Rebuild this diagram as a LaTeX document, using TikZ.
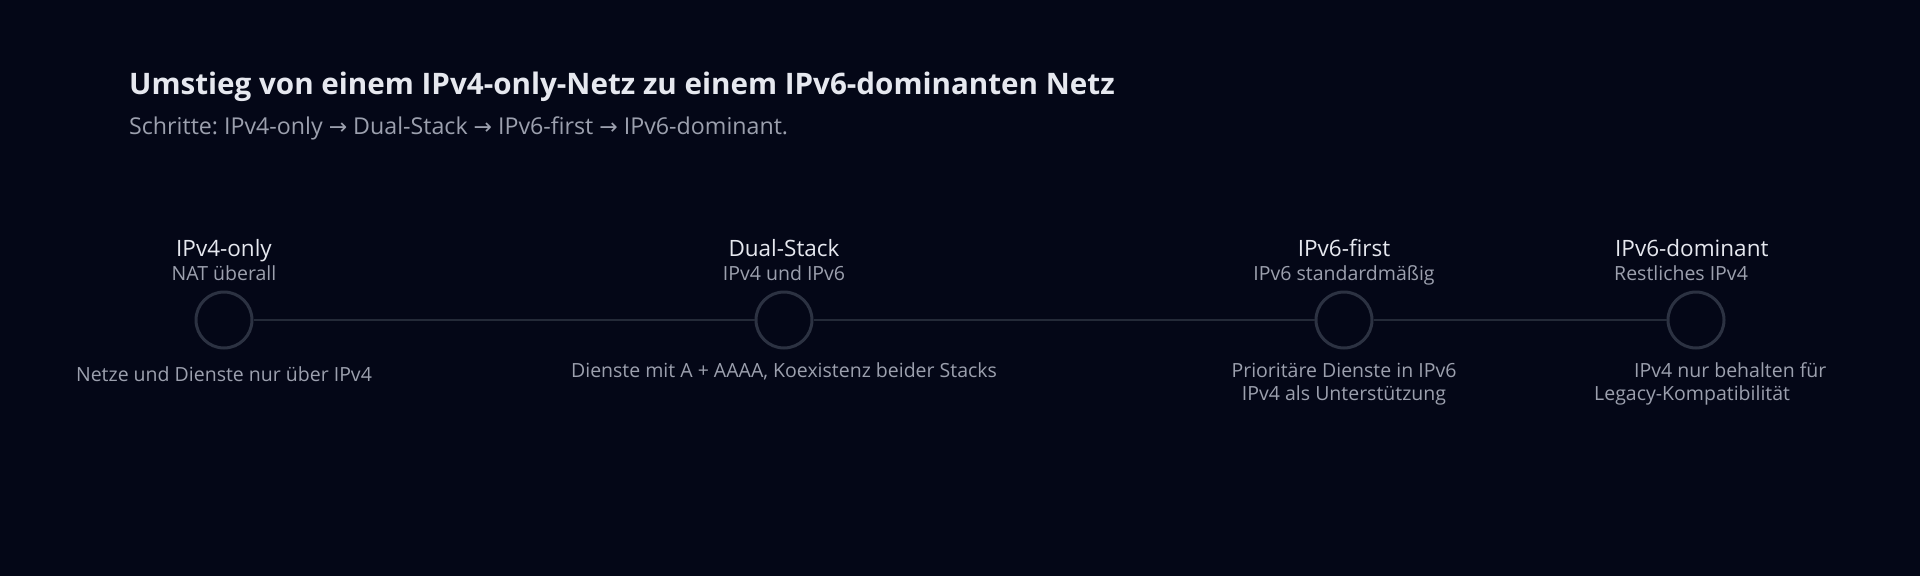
\documentclass[tikz,border=0pt]{standalone}
\usepackage{fontspec}
\setmainfont{Open Sans}
\newfontfamily\arrowfont{DejaVu Sans}
\newcommand{\myarrow}{{\arrowfont\fontsize{22}{26}\selectfont →}}
\definecolor{bgc}{HTML}{040717}
\definecolor{titlec}{HTML}{E6E8EF}
\definecolor{subc}{HTML}{9CA0AE}
\definecolor{linec}{HTML}{242a38}
\definecolor{ringc}{HTML}{2C3242}
\tikzset{
  stage/.style={circle, draw=ringc, line width=3pt, fill=bgc, minimum size=56pt, inner sep=0pt},
  conn/.style={draw=linec, line width=2.6pt},
  stagetitle/.style={anchor=base, text=titlec, font=\fontsize{22.5}{26}\selectfont, inner sep=0pt},
  stagesub/.style={anchor=base, text=subc, font=\fontsize{19.5}{23}\selectfont, inner sep=0pt},
  stagedesc/.style={anchor=base, text=subc, font=\fontsize{19.5}{23}\selectfont, inner sep=0pt},
}
\frenchspacing
\begin{document}
\begin{tikzpicture}[x=1pt, y=-1pt]
\fill[bgc] (0,0) rectangle (1920,576);
\useasboundingbox (0,0) rectangle (1920,576);

\node[anchor=base west, inner sep=0pt, text=titlec, font=\fontsize{29.6}{34}\selectfont\bfseries] (title) at (129,94) {Umstieg von einem IPv4-only-Netz zu einem IPv6-dominanten Netz};
\node[anchor=base west, inner sep=0pt, text=subc, font=\fontsize{23.2}{27}\selectfont] (subtitle) at (129,134) {Schritte: IPv4-only \myarrow{} Dual-Stack \myarrow{} IPv6-first \myarrow{} IPv6-dominant.};

\node[stage] (s1) at (224,320) {};
\node[stage] (s2) at (784,320) {};
\node[stage] (s3) at (1344,320) {};
\node[stage] (s4) at (1696,320) {};
\draw[conn] (s1) -- (s2);
\draw[conn] (s2) -- (s3);
\draw[conn] (s3) -- (s4);

\node[stagetitle] (t1) at (224,256) {IPv4-only};
\node[stagesub] (u1) at (224,280) {NAT überall};
\node[stagedesc] (d1) at (224,381) {Netze und Dienste nur über IPv4};

\node[stagetitle] (t2) at (784,256) {Dual-Stack};
\node[stagesub] (u2) at (784,280) {IPv4 und IPv6};
\node[stagedesc] (d2) at (784,377) {Dienste mit A + AAAA, Koexistenz beider Stacks};

\node[stagetitle] (t3) at (1344,256) {IPv6-first};
\node[stagesub] (u3) at (1344,280) {IPv6 standardmäßig};
\node[stagedesc] (d3a) at (1344,377) {Prioritäre Dienste in IPv6};
\node[stagedesc] (d3b) at (1344,400) {IPv4 als Unterstützung};

\node[stagetitle, anchor=base west] (t4) at (1615,256) {IPv6-dominant};
\node[stagesub, anchor=base west] (u4) at (1614,280) {Restliches IPv4};
\node[stagedesc, anchor=base west] (d4a) at (1634,377) {IPv4 nur behalten für};
\node[stagedesc, anchor=base west] (d4b) at (1594,400) {Legacy-Kompatibilität};
\end{tikzpicture}
\end{document}
